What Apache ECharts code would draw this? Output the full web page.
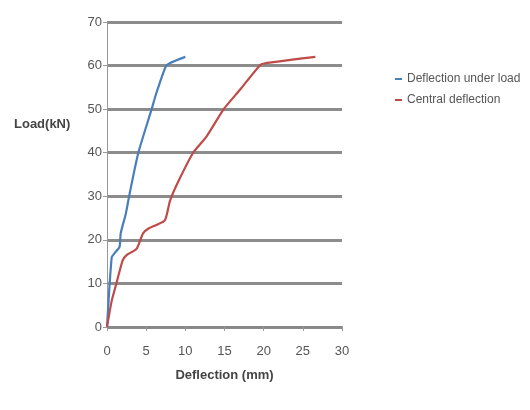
<!DOCTYPE html>
<html>
<head>
<meta charset="utf-8">
<script src="https://cdn.jsdelivr.net/npm/echarts@6/dist/echarts.min.js"></script>
<style>html,body{margin:0;padding:0;background:#fff;}#c{width:530px;height:410px;}</style>
</head>
<body>
<div id="c"></div>
<script>
var seriesNames = ['Deflection under load', 'Central deflection'];
var underLoadX = [0, 0.6, 1.0, 1.6, 1.75, 2.4, 2.9, 4.0, 5.7, 6.3, 7.5, 8.05, 10.0];
var underLoadY = [0, 16, 17, 18.4, 21.5, 26, 30.7, 40, 50, 53.7, 59.8, 60.6, 62];
var centralX = [0, 0.6, 1.2, 2.0, 2.5, 3.8, 4.6, 5.3, 6.3, 7.4, 8.05, 9.1, 11.0, 12.7, 14.9, 17.0, 19.6, 20.4, 23.4, 26.6];
var centralY = [0, 6, 10, 15.3, 16.5, 18, 21.5, 22.6, 23.4, 24.5, 29, 33.4, 40, 43.7, 50, 54.5, 60.2, 60.6, 61.3, 62];
var xTicks = [0, 5, 10, 15, 20, 25, 30];
var yTicks = [0, 10, 20, 30, 40, 50, 60, 70];
var yTitle = 'Load(kN)';
var xTitle = 'Deflection (mm)';

function pairs(xs, ys){ return xs.map(function(x,i){ return [x, ys[i]]; }); }

var font = "'Liberation Sans Narrow', 'Liberation Sans', Arial, sans-serif";
var chart = echarts.init(document.getElementById('c'));
chart.setOption({
  animation: false,
  backgroundColor: '#fff',
  grid: {left: 107, right: 188, top: 22, bottom: 83, outerBoundsMode: 'none', containLabel: false},
  legend: {
    orient: 'vertical', left: 390, top: 68, itemGap: 9,
    itemWidth: 7, itemHeight: 2, icon: 'rect',
    textStyle: {fontFamily: font, fontSize: 12, color: '#555'},
    data: seriesNames
  },
  graphic: [{
    type: 'text', left: 14, top: 118,
    style: {text: yTitle, fontFamily: font, fontSize: 13, fontWeight: 'bold', fill: '#444'}
  }],
  xAxis: {
    type: 'value', min: xTicks[0], max: xTicks[xTicks.length-1], interval: 5,
    name: xTitle, nameLocation: 'middle', nameGap: 42,
    nameTextStyle: {fontFamily: font, fontSize: 13, fontWeight: 'bold', color: '#444'},
    axisLine: {lineStyle: {color: '#888', width: 2}},
    axisTick: {show: true, length: 4, lineStyle: {color: '#999'}},
    axisLabel: {fontFamily: font, fontSize: 13, color: '#555', margin: 18},
    splitLine: {show: false}
  },
  yAxis: {
    type: 'value', min: yTicks[0], max: yTicks[yTicks.length-1], interval: 10,
    axisLine: {show: true, lineStyle: {color: '#999', width: 1}},
    axisTick: {show: true, length: 4, lineStyle: {color: '#999'}},
    axisLabel: {fontFamily: font, fontSize: 13, color: '#555', margin: 5},
    splitLine: {show: true, lineStyle: {color: '#8c8c8c', width: 3}}
  },
  series: [
    {name: seriesNames[0], type: 'line', data: pairs(underLoadX, underLoadY), showSymbol: false, smooth: 0.2,
     lineStyle: {color: '#4a7ebb', width: 2.2}, itemStyle: {color: '#4a7ebb'}},
    {name: seriesNames[1], type: 'line', data: pairs(centralX, centralY), showSymbol: false, smooth: 0.2,
     lineStyle: {color: '#be4b48', width: 2.2}, itemStyle: {color: '#be4b48'}}
  ]
});
</script>
</body>
</html>
